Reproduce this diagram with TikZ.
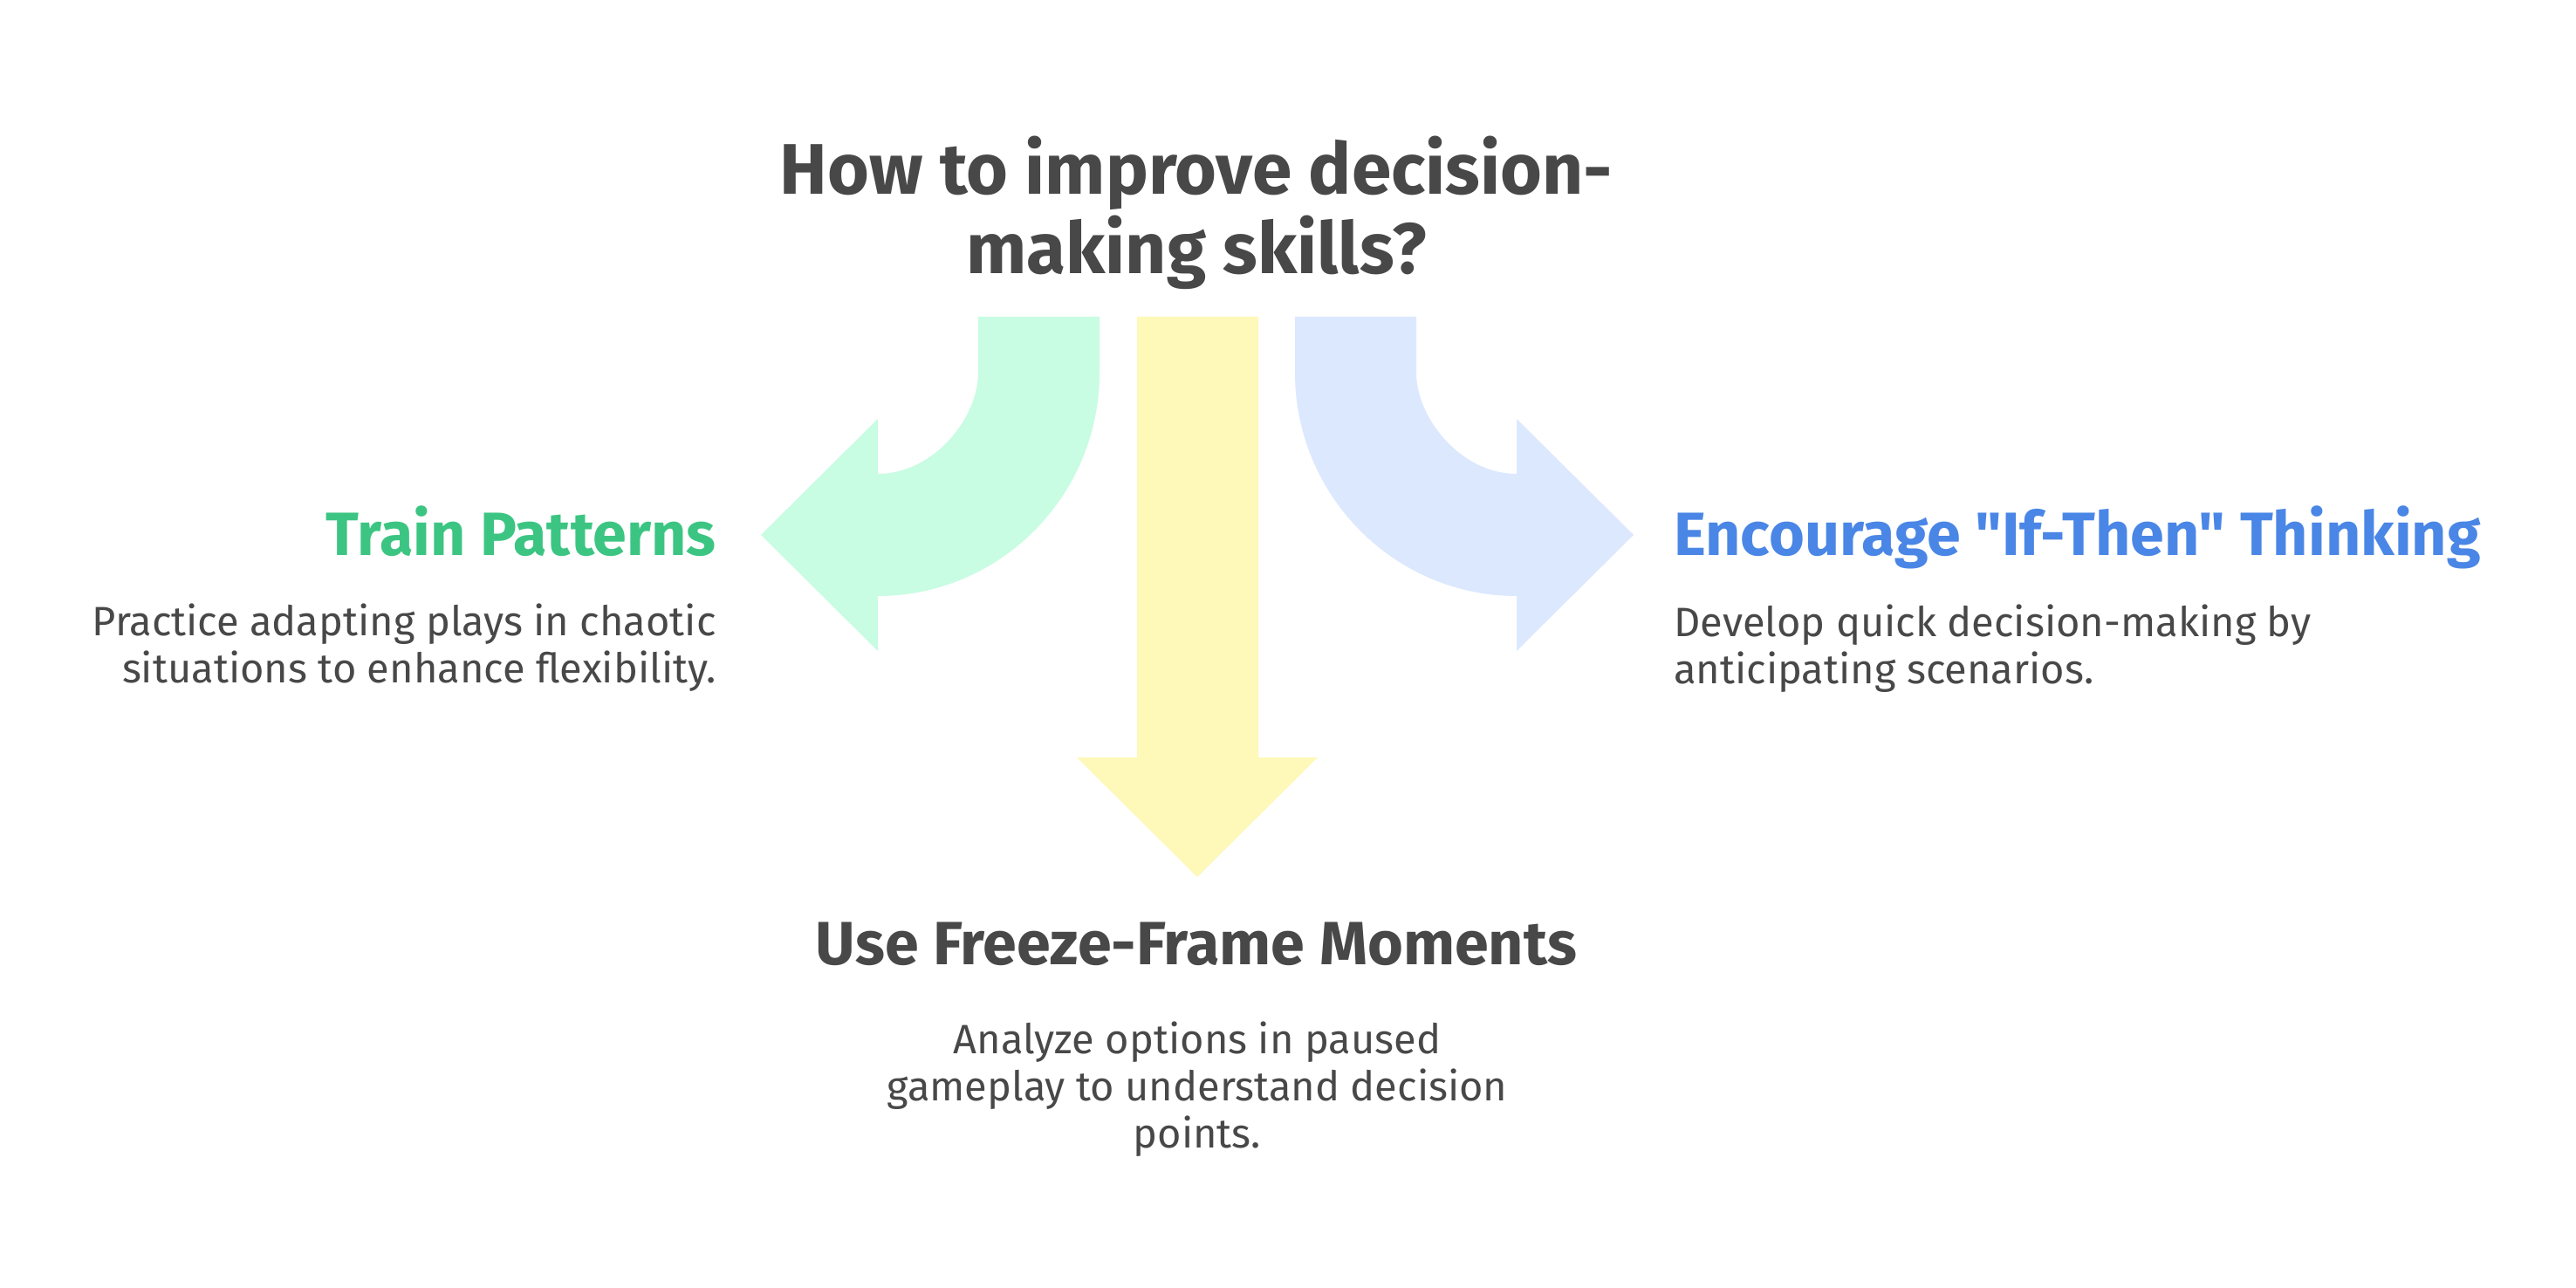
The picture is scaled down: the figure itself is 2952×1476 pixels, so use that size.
\documentclass[tikz,border=0pt]{standalone}
\usepackage{fontspec}
\setmainfont{Fira Sans}[Ligatures=TeXOff]
\definecolor{txtgray}{HTML}{484848}
\definecolor{tgreen}{HTML}{3CC582}
\definecolor{tblue}{HTML}{4A86E6}
\definecolor{fgreen}{HTML}{C8FCE3}
\definecolor{fyellow}{HTML}{FEF8B9}
\definecolor{fblue}{HTML}{DCE8FE}
\begin{document}
\begin{tikzpicture}[x=0.5pt,y=-0.5pt,
  titlefont/.style={font=\fontsize{41}{45.5}\selectfont\bfseries, text=txtgray},
  headfont/.style={font=\fontsize{35}{40}\selectfont\bfseries},
  descfont/.style={font=\fontsize{23.5}{27}\selectfont, text=txtgray}]
\fill[white] (0,0) rectangle (2952,1476);
\useasboundingbox (0,0) rectangle (2952,1476);
% green arrow (left)
\fill[fgreen] (1121,363) -- (1260,363) -- (1260,427)
  .. controls (1260,568) and (1146,683) .. (1006,683)
  -- (1006,746) -- (872,613) -- (1006,480) -- (1006,543)
  .. controls (1070,543) and (1121,479) .. (1121,427) -- cycle;
% yellow arrow (down)
\fill[fyellow] (1303,363) -- (1442,363) -- (1442,868) -- (1510,868)
  -- (1372,1005) -- (1234,868) -- (1303,868) -- cycle;
% blue arrow (right)
\fill[fblue] (1623,363) -- (1484,363) -- (1484,427)
  .. controls (1484,568) and (1598,683) .. (1738,683)
  -- (1738,746) -- (1872,613) -- (1738,480) -- (1738,543)
  .. controls (1674,543) and (1623,479) .. (1623,427) -- cycle;
% texts (multi-line nodes: base = baseline of last line)
\node[titlefont, align=center, anchor=base, inner sep=0pt] (title) at (1371,314)
  {How to improve decision-\\making skills?};
\node[headfont, text=tgreen, anchor=base east, inner sep=0pt] (trainH) at (821,637) {Train Patterns};
\node[descfont, align=right, anchor=base east, inner sep=0pt] (trainD) at (821,782)
  {Practice adapting plays in chaotic\\situations to enhance flexibility.};
\node[headfont, text=tblue, anchor=base west, inner sep=0pt] (ifH) at (1918,637) {Encourage "If-Then" Thinking};
\node[descfont, align=left, anchor=base west, inner sep=0pt] (ifD) at (1918,783)
  {Develop quick decision-making by\\anticipating scenarios.};
\node[headfont, text=txtgray, anchor=base, inner sep=0pt] (freezeH) at (1371,1105) {Use Freeze-Frame Moments};
\node[descfont, align=center, anchor=base, inner sep=0pt] (freezeD) at (1372,1315)
  {Analyze options in paused\\gameplay to understand decision\\points.};
\end{tikzpicture}
\end{document}
